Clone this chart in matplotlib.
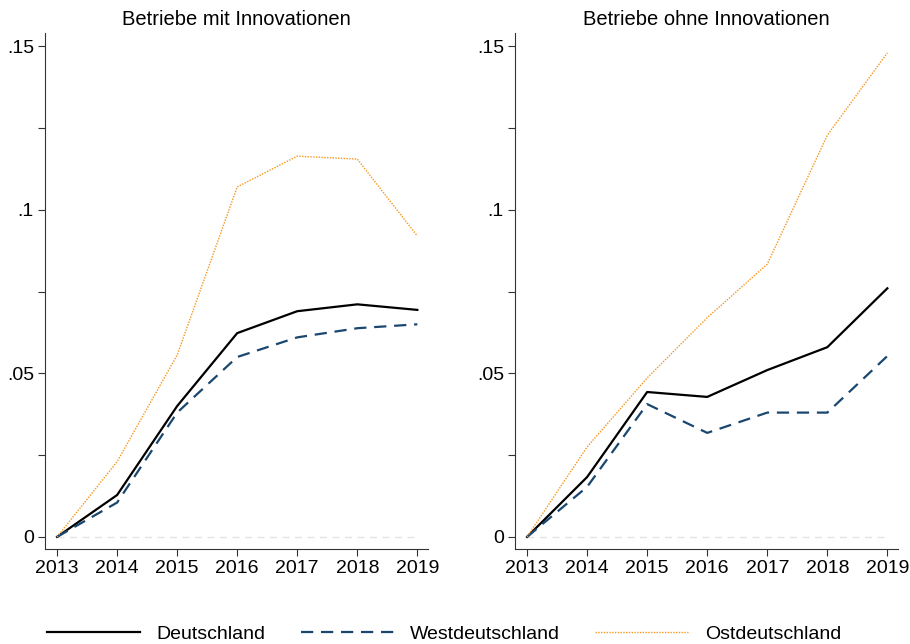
import numpy as np
import matplotlib.pyplot as plt
from matplotlib.ticker import FixedLocator, FuncFormatter

plt.rcParams['font.family'] = ['Liberation Sans', 'DejaVu Sans']

years = [2013, 2014, 2015, 2016, 2017, 2018, 2019]

# Betriebe mit Innovationen
mit_de = [0, 0.0128, 0.040, 0.0623, 0.069, 0.0711, 0.0694]
mit_west = [0, 0.0105, 0.038, 0.055, 0.061, 0.0638, 0.065]
mit_ost = [0, 0.023, 0.0556, 0.107, 0.1164, 0.1155, 0.092]

# Betriebe ohne Innovationen
ohne_de = [0, 0.0183, 0.0443, 0.0428, 0.051, 0.058, 0.076]
ohne_west = [0, 0.0153, 0.0406, 0.0318, 0.038, 0.038, 0.0553]
ohne_ost = [0, 0.0275, 0.0486, 0.067, 0.0834, 0.1228, 0.148]

titles = ['Betriebe mit Innovationen', 'Betriebe ohne Innovationen']
labels = ['Deutschland', 'Westdeutschland', 'Ostdeutschland']

navy = '#1a476f'
orange = '#f7961e'

fig = plt.figure(figsize=(9.1, 6.44), dpi=100)
ax1 = fig.add_axes([0.0495, 0.1475, 0.421, 0.801])
ax2 = fig.add_axes([0.566, 0.1475, 0.421, 0.801])


def fmt(v, pos):
    if abs(v) < 1e-9:
        return '0'
    return ('%g' % v).lstrip('0')


for ax, title, de, west, ost in [(ax1, titles[0], mit_de, mit_west, mit_ost),
                                 (ax2, titles[1], ohne_de, ohne_west, ohne_ost)]:
    ax.axhline(0, color='#e4e4e4', lw=1, ls=(0, (5, 4)), zorder=0,
               xmin=0.03, xmax=0.97)
    l1, = ax.plot(years, de, color='black', lw=1.6)
    l2, = ax.plot(years, west, color=navy, lw=1.6, ls=(0, (5.5, 3.5)))
    l3, = ax.plot(years, ost, color=orange, lw=1.0, ls=(0, (1, 1)))
    ax.set_xlim(2012.8, 2019.18)
    ax.set_ylim(-0.0037, 0.154)
    ax.set_xticks(years)
    ax.yaxis.set_major_locator(FixedLocator([0, 0.05, 0.1, 0.15]))
    ax.yaxis.set_minor_locator(FixedLocator([0.025, 0.075, 0.125]))
    ax.yaxis.set_major_formatter(FuncFormatter(fmt))
    ax.tick_params(axis='both', which='both', labelsize=14, length=5,
                   width=0.8, color='#333333', pad=3)
    ax.tick_params(axis='y', which='minor', length=5)
    for s in ['top', 'right']:
        ax.spines[s].set_visible(False)
    for s in ['left', 'bottom']:
        ax.spines[s].set_color('#333333')
        ax.spines[s].set_linewidth(0.8)
    ax.set_title(title, fontsize=14.5, pad=6)

fig.legend([l1, l2, l3], labels, loc='lower center', ncol=3,
           bbox_to_anchor=(0.488, -0.025), frameon=False, fontsize=14,
           handlelength=4.8, handletextpad=0.85, columnspacing=1.8)

fig.savefig('out.png', dpi=100)
